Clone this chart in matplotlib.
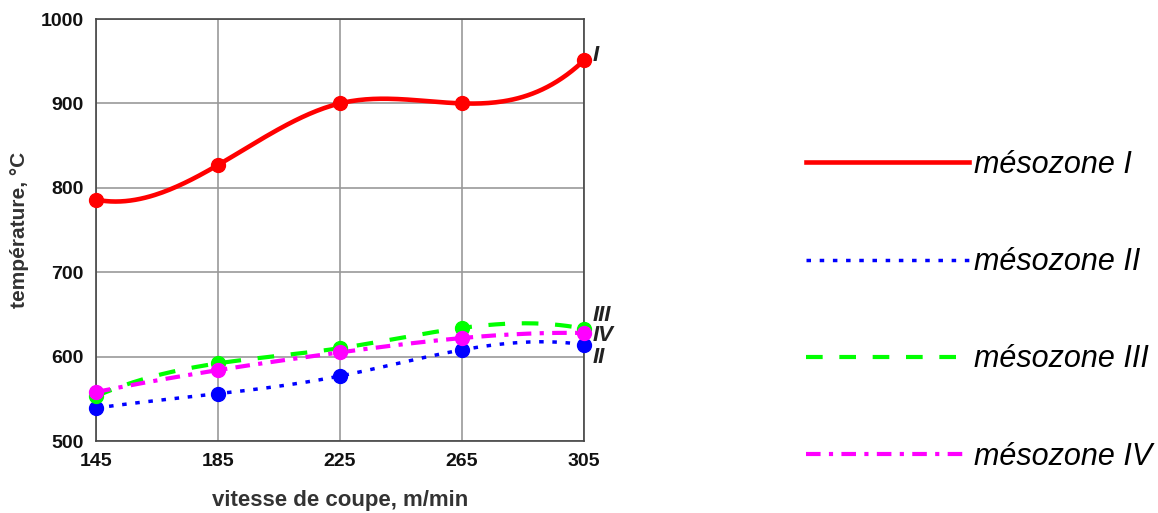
import numpy as np
import matplotlib.pyplot as plt

# vitesse de coupe (m/min)
vitesse = [145, 185, 225, 265, 305]

# temperatures par mesozone (°C)
temp_I = [786, 827, 900, 900, 951]
temp_II = [539, 556, 577, 608, 614]
temp_III = [553, 592, 610, 634, 633]
temp_IV = [558, 584, 605, 622, 628]

noms = ["mésozone I", "mésozone II", "mésozone III", "mésozone IV"]
etiquettes = ["I", "II", "III", "IV"]
pos_etiq = [957, 599, 649, 625]


def spline(x, y, n=200):
    # spline cubique "not-a-knot"
    x = np.asarray(x, float)
    y = np.asarray(y, float)
    k = len(x)
    h = np.diff(x)
    A = np.zeros((k, k))
    b = np.zeros(k)
    A[0, 0] = h[1]
    A[0, 1] = -(h[0] + h[1])
    A[0, 2] = h[0]
    A[-1, -3] = h[-1]
    A[-1, -2] = -(h[-2] + h[-1])
    A[-1, -1] = h[-2]
    for i in range(1, k - 1):
        A[i, i - 1] = h[i - 1]
        A[i, i] = 2 * (h[i - 1] + h[i])
        A[i, i + 1] = h[i]
        b[i] = 6 * ((y[i + 1] - y[i]) / h[i] - (y[i] - y[i - 1]) / h[i - 1])
    M = np.linalg.solve(A, b)
    xs = np.linspace(x[0], x[-1], n)
    ys = np.zeros_like(xs)
    for j, xv in enumerate(xs):
        i = min(np.searchsorted(x, xv, side="right") - 1, k - 2)
        t1 = x[i + 1] - xv
        t0 = xv - x[i]
        ys[j] = (M[i] * t1 ** 3 + M[i + 1] * t0 ** 3) / (6 * h[i]) \
            + (y[i] / h[i] - M[i] * h[i] / 6) * t1 \
            + (y[i + 1] / h[i] - M[i + 1] * h[i] / 6) * t0
    return xs, ys


plt.rcParams['font.family'] = ['Liberation Sans', 'DejaVu Sans']

fig = plt.figure(figsize=(11.58, 5.13), dpi=100)
ax = fig.add_axes([96 / 1158, 72 / 513, 488 / 1158, 422 / 513])

styles = [
    dict(color="#ff0000", lw=3.3, ls="-"),
    dict(color="#0000ff", lw=2.5, ls=(0, (1.3, 2.5))),
    dict(color="#00ff00", lw=3, ls=(0, (4, 4))),
    dict(color="#ff00ff", lw=3, ls=(0, (3.5, 2, 1, 2))),
]
series = [temp_I, temp_II, temp_III, temp_IV]

handles = []
for vals, st, nom in zip(series, styles, noms):
    xs, ys = spline(vitesse, vals)
    h, = ax.plot(xs, ys, color=st["color"], lw=st["lw"], ls=st["ls"],
                 label=nom, clip_on=False, zorder=3)
    ax.plot(vitesse, vals, "o", color=st["color"], ms=10, clip_on=False, zorder=4)
    handles.append(h)

for lab, yv in zip(etiquettes, pos_etiq):
    ax.annotate(lab, xy=(305, yv), xytext=(6, 0), textcoords="offset points",
                fontsize=16, fontweight="bold", style="italic", va="center",
                color="#222222", annotation_clip=False)

ax.set_xlim(145, 305)
ax.set_ylim(500, 1000)
ax.set_xticks(vitesse)
ax.set_yticks([500, 600, 700, 800, 900, 1000])
ax.grid(True, color="#999999", lw=1.2)
ax.tick_params(length=0, labelsize=14, pad=9, labelcolor="#111111")
for lbl in ax.get_xticklabels() + ax.get_yticklabels():
    lbl.set_fontweight("bold")
for sp in ax.spines.values():
    sp.set_color("#444444")
    sp.set_linewidth(1.2)

ax.set_xlabel("vitesse de coupe, m/min", fontsize=16, fontweight="bold", color="#333333", labelpad=14)
ax.set_ylabel("température, °C", fontsize=15, fontweight="bold", color="#333333", labelpad=8)

fig.legend(handles=handles, loc="center left", bbox_to_anchor=(0.672, 0.394),
           frameon=False, handlelength=5.35, labelspacing=2.2, handletextpad=0.16,
           prop=dict(style="italic", size=22))

fig.savefig("out.png", dpi=100)
